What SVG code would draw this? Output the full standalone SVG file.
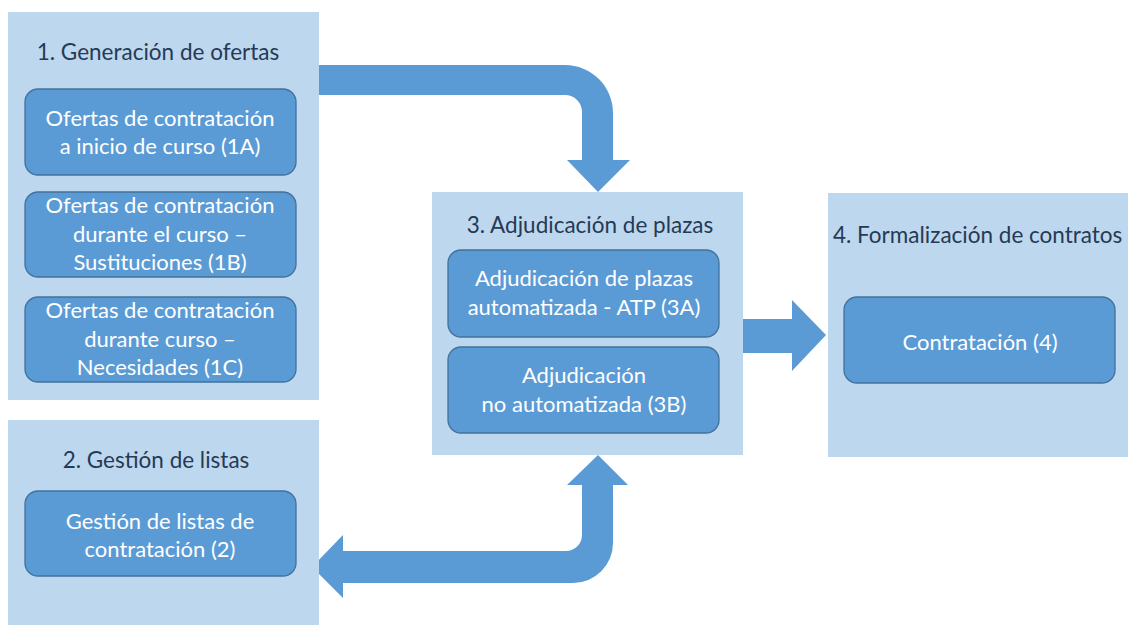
<svg xmlns="http://www.w3.org/2000/svg" width="1128" height="625" viewBox="0 0 1128 625">
<style>
.panel{fill:#BDD7EE;}
.inner{fill:#5B9BD5;stroke:#41719C;stroke-width:1.3;}
.arrow{fill:#5B9BD5;}
.title{font-family:Lato,"Open Sans","Liberation Sans",sans-serif;font-size:22.5px;fill:#263A55;text-anchor:middle;}
.lbl{font-family:Lato,"Open Sans","Liberation Sans",sans-serif;font-size:22px;fill:#FFFFFF;text-anchor:middle;}
</style>
<rect width="1128" height="625" fill="#FFFFFF"/>
<g id="connectors">
<path class="arrow" d="M319,65 H565 A48,48 0 0 1 613,113 V160 H630 L598,192 L567,160 H582 V112 A17,17 0 0 0 565,95 H319 Z"/>
<path class="arrow" d="M598,455 L628,485 H613 V543 A40,40 0 0 1 573,583 H343 V598 L312,567 L343,535 V551 H566 A16,16 0 0 0 582,535 V485 H567 Z"/>
<path class="arrow" d="M743,319 H792 V300 L826,335 L792,371 V353 H743 Z"/>
</g>
<g id="group1">
<rect class="panel" x="8" y="12" width="311" height="388"/>
<text class="title" x="158" y="60">1. Generación de ofertas</text>
</g>
<g id="node1A">
<rect class="inner" x="25" y="89" width="271" height="86" rx="13"/>
<text class="lbl" x="160" y="126">Ofertas de contratación</text>
<text class="lbl" x="160" y="154">a inicio de curso (1A)</text>
</g>
<g id="node1B">
<rect class="inner" x="25" y="192" width="271" height="85" rx="13"/>
<text class="lbl" x="160" y="213">Ofertas de contratación</text>
<text class="lbl" x="160" y="242">durante el curso –</text>
<text class="lbl" x="160" y="270">Sustituciones (1B)</text>
</g>
<g id="node1C">
<rect class="inner" x="25" y="297" width="271" height="85" rx="13"/>
<text class="lbl" x="160" y="318">Ofertas de contratación</text>
<text class="lbl" x="160" y="347">durante curso –</text>
<text class="lbl" x="160" y="375">Necesidades (1C)</text>
</g>
<g id="group2">
<rect class="panel" x="8" y="420" width="311" height="210"/>
<text class="title" x="156" y="468">2. Gestión de listas</text>
</g>
<g id="node2">
<rect class="inner" x="25" y="491" width="271" height="85" rx="13"/>
<text class="lbl" x="160" y="529">Gestión de listas de</text>
<text class="lbl" x="160" y="557">contratación (2)</text>
</g>
<g id="group3">
<rect class="panel" x="432" y="192" width="311" height="263"/>
<text class="title" x="590" y="233">3. Adjudicación de plazas</text>
</g>
<g id="node3A">
<rect class="inner" x="448" y="250" width="271" height="87" rx="13"/>
<text class="lbl" x="584" y="286">Adjudicación de plazas</text>
<text class="lbl" x="584" y="315">automatizada - ATP (3A)</text>
</g>
<g id="node3B">
<rect class="inner" x="448" y="347" width="271" height="86" rx="13"/>
<text class="lbl" x="584" y="383">Adjudicación</text>
<text class="lbl" x="584" y="412">no automatizada (3B)</text>
</g>
<g id="group4">
<rect class="panel" x="828" y="193" width="310" height="264"/>
<text class="title" x="833" y="243" style="text-anchor:start">4. Formalización de contratos</text>
</g>
<g id="node4">
<rect class="inner" x="844" y="297" width="271" height="86" rx="13"/>
<text class="lbl" x="980" y="350">Contratación (4)</text>
</g>
</svg>
